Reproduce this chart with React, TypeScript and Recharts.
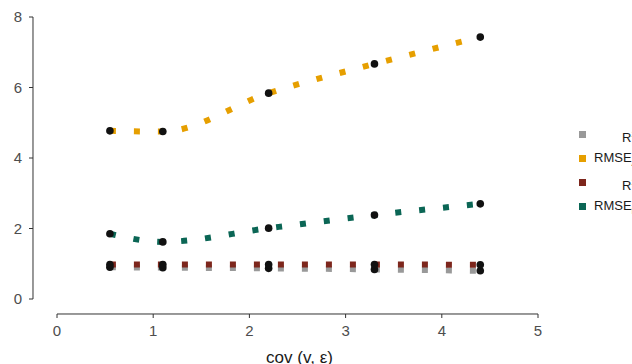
import {
  ComposedChart,
  Line,
  Scatter,
  XAxis,
  YAxis,
  ReferenceLine,
  Label,
} from 'recharts';

// x positions of the five settings
const COV = [0.55, 1.1, 2.2, 3.3, 4.4];
// series values
const R2_A = [0.9, 0.89, 0.87, 0.84, 0.8];
const RMSE_A = [4.77, 4.75, 5.84, 6.67, 7.43];
const R2_B = [0.98, 0.98, 0.98, 0.98, 0.97];
const RMSE_B = [1.85, 1.62, 2.01, 2.38, 2.7];

const X_TICKS = [0, 1, 2, 3, 4, 5];
const Y_TICKS = [0, 2, 4, 6, 8];

const SERIES = [
  { key: 'r2a', base: 'R', sup: '2', sub: 'A', color: '#999999' },
  { key: 'rmsea', base: 'RMSE', sup: '', sub: 'A', color: '#E69F00' },
  { key: 'r2b', base: 'R', sup: '2', sub: 'B', color: '#7D261C' },
  { key: 'rmseb', base: 'RMSE', sup: '', sub: 'B', color: '#0B6655' },
];

const data = COV.map((x, i) => ({
  x,
  r2a: R2_A[i],
  rmsea: RMSE_A[i],
  r2b: R2_B[i],
  rmseb: RMSE_B[i],
}));

const FONT = '"Liberation Sans", Arial, Helvetica, sans-serif';

function LegendBox() {
  return (
    <div
      style={{
        position: 'absolute',
        left: 578,
        top: 126,
        width: 80,
        height: 100,
        fontFamily: FONT,
        fontSize: 13,
        color: '#1a1a1a',
      }}
    >
      {SERIES.map((s, i) => (
        <div key={s.key} style={{ position: 'absolute', top: i * 24, left: 0, height: 16, whiteSpace: 'nowrap' }}>
          <span style={{ position: 'absolute', left: 1, top: 5, width: 7, height: 7, background: s.color }} />
          <span style={{ position: 'absolute', left: s.sup ? 44 : 16, top: 0, lineHeight: '16px' }}>
            {s.base}
            {s.sup && <sup style={{ fontSize: 9 }}>{s.sup}</sup>}
            <sub style={{ fontSize: 9 }}>{s.sub}</sub>
          </span>
        </div>
      ))}
    </div>
  );
}

function XTitle(props: any) {
  const vb = props.viewBox || {};
  const cx = vb.x + 24 + (vb.width - 24) / 2 + 2;
  return (
    <text x={cx} y={363} textAnchor="middle" fontFamily={FONT} fontSize={17} fill="#1a1a1a">
      cov (v, ε)
    </text>
  );
}

export default function App() {
  return (
    <div style={{ position: 'fixed', left: 0, top: 0, width: 632, height: 364, overflow: 'hidden', background: '#fff' }}>
      <ComposedChart width={632} height={364} data={data} margin={{ top: 17, right: 94, bottom: 0, left: 0 }}>
        <XAxis
          type="number"
          dataKey="x"
          domain={[0, 5]}
          ticks={X_TICKS}
          padding={{ left: 24, right: 0 }}
          height={50}
          axisLine={false}
          tickSize={4}
          tickMargin={7}
          tickLine={{ stroke: '#333' }}
          tick={{ fontSize: 15, fill: '#4d4d4d', fontFamily: FONT }}
        >
          <Label content={XTitle} />
        </XAxis>
        <YAxis
          type="number"
          domain={[0, 8]}
          ticks={Y_TICKS}
          padding={{ top: 0, bottom: 15 }}
          width={33}
          axisLine={false}
          tickSize={4}
          tickMargin={7}
          tickLine={{ stroke: '#333' }}
          tick={{ fontSize: 15, fill: '#4d4d4d', fontFamily: FONT }}
        />
        <ReferenceLine
          segment={[{ x: 0, y: -0.4255 }, { x: 5, y: -0.4255 }]}
          stroke="#333"
          strokeWidth={1}
          ifOverflow="visible"
        />
        <ReferenceLine
          segment={[{ x: -0.2495, y: 0 }, { x: -0.2495, y: 8 }]}
          stroke="#333"
          strokeWidth={1}
          ifOverflow="visible"
        />
        {SERIES.map((s) => (
          <Line
            key={s.key}
            type="monotone"
            dataKey={s.key}
            stroke={s.color}
            strokeWidth={6}
            strokeDasharray="6 18"
            strokeLinecap="butt"
            dot={false}
            activeDot={false}
            isAnimationActive={false}
          />
        ))}
        {SERIES.map((s) => (
          <Scatter
            key={'pt-' + s.key}
            dataKey={s.key}
            fill="#111111"
            shape={(p: any) => <circle cx={p.cx} cy={p.cy} r={3.8} fill="#111111" />}
            isAnimationActive={false}
          />
        ))}
      </ComposedChart>
      <LegendBox />
    </div>
  );
}
